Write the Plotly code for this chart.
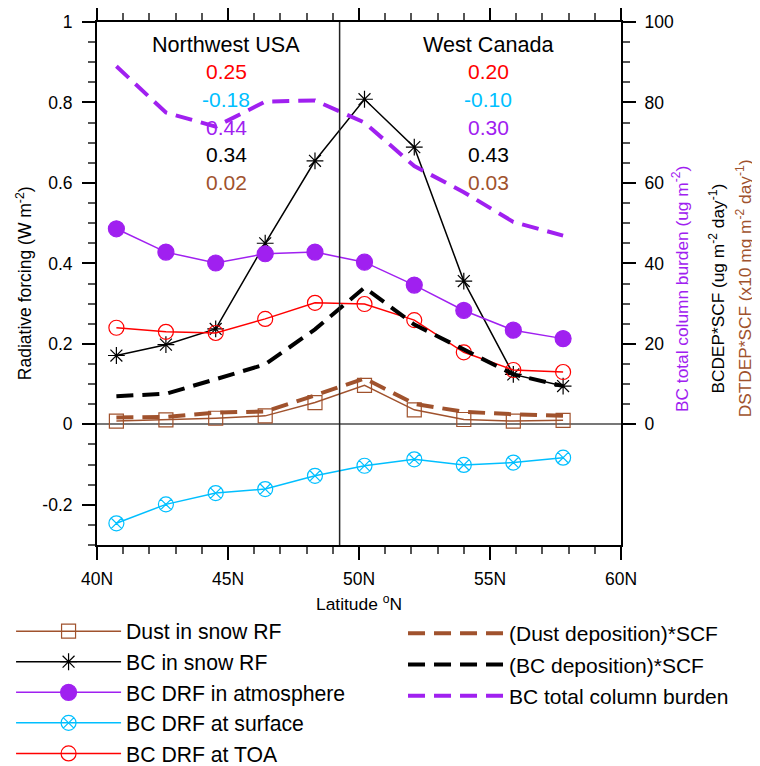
import plotly.graph_objects as go

# ---------------- data ----------------
lat = [40.74, 42.63, 44.53, 46.42, 48.32, 50.21, 52.11, 54.0, 55.89, 57.79]
divider_lat = 49.26

dust_snow_rf = [0.008, 0.011, 0.015, 0.021, 0.054, 0.097, 0.036, 0.012, 0.008, 0.010]
bc_snow_rf = [0.171, 0.198, 0.237, 0.450, 0.655, 0.808, 0.689, 0.356, 0.124, 0.095]
bc_drf_atm = [0.486, 0.428, 0.401, 0.424, 0.428, 0.403, 0.346, 0.283, 0.234, 0.213]
bc_drf_sfc = [-0.246, -0.199, -0.171, -0.161, -0.128, -0.103, -0.087, -0.101, -0.095, -0.083]
bc_drf_toa = [0.240, 0.230, 0.227, 0.262, 0.302, 0.299, 0.259, 0.179, 0.135, 0.130]

dust_dep_scf = [1.7, 1.8, 2.9, 3.2, 7.2, 11.4, 5.1, 3.1, 2.5, 2.1]
bc_dep_scf = [7.0, 7.6, 11.2, 14.9, 23.6, 34.0, 24.8, 18.6, 12.4, 9.5]
bc_burden = [89.0, 77.5, 74.0, 80.2, 80.5, 75.0, 64.2, 57.7, 50.3, 46.9]

region_names = ["Northwest USA", "West Canada"]
region_lat = [44.93, 54.93]
region_values = {
    "toa": ["0.25", "0.20"],
    "sfc": ["-0.18", "-0.10"],
    "atm": ["0.44", "0.30"],
    "bcsnow": ["0.34", "0.43"],
    "dustsnow": ["0.02", "0.03"],
}

x_tickvals = [40, 45, 50, 55, 60]
x_ticktext = ["40N", "45N", "50N", "55N", "60N"]
y_tickvals = [-0.2, 0, 0.2, 0.4, 0.6, 0.8, 1]
y_ticktext = ["-0.2", "0", "0.2", "0.4", "0.6", "0.8", "1"]
y2_tickvals = [0, 20, 40, 60, 80, 100]

# ---------------- colours ----------------
BROWN = "#A0522D"
PURPLE = "#A020F0"
CYAN = "#00BFFF"
RED = "#FF0000"
BLACK = "#000000"
FONT = "Liberation Sans, Arial, Helvetica, sans-serif"

fig = go.Figure()

def solid(name, y, color, symbol, size, group):
    fig.add_trace(go.Scatter(
        x=lat, y=y, name=name, mode="lines+markers",
        line=dict(color=color, width=1.5),
        marker=dict(symbol=symbol, size=size, color=color,
                    line=dict(color=color, width=1.2)),
        legend="legend", legendgroup=group, yaxis="y"))

def dashed(name, y, color, group):
    fig.add_trace(go.Scatter(
        x=lat, y=y, name=name, mode="lines",
        line=dict(color=color, width=4, dash="17px,9px"),
        legend="legend2", legendgroup=group, yaxis="y2"))

# dashed (right axis)
dashed("(Dust deposition)*SCF", dust_dep_scf, BROWN, "d1")
dashed("(BC deposition)*SCF", bc_dep_scf, BLACK, "d2")
dashed("BC total column burden", bc_burden, PURPLE, "d3")

# solid (left axis)
solid("Dust in snow RF", dust_snow_rf, BROWN, "square-open", 14, "s1")
solid("BC in snow RF", bc_snow_rf, BLACK, "asterisk-open", 14, "s2")
solid("BC DRF in atmosphere", bc_drf_atm, PURPLE, "circle", 16, "s3")
solid("BC DRF at surface", bc_drf_sfc, CYAN, "circle-x-open", 15, "s4")
solid("BC DRF at TOA", bc_drf_toa, RED, "circle-open", 15, "s5")

# divider
fig.add_vline(x=divider_lat, line=dict(color="#222222", width=1.5))

# region annotations
row_colors = [("toa", RED), ("sfc", CYAN), ("atm", PURPLE), ("bcsnow", BLACK), ("dustsnow", BROWN)]
for i, (nm, xl) in enumerate(zip(region_names, region_lat)):
    fig.add_annotation(x=xl, y=0.945, xref="x", yref="y", text=nm, showarrow=False,
                       xanchor="center", yanchor="middle",
                       font=dict(size=21.6, color=BLACK, family=FONT))
    for j, (key, col) in enumerate(row_colors):
        fig.add_annotation(x=xl, y=0.878 - 0.0695 * j, xref="x", yref="y",
                           text=region_values[key][i], showarrow=False,
                           xanchor="center", yanchor="middle",
                           font=dict(size=21, color=col, family=FONT))

# axis titles (left & right)
side_titles = [
    (-0.140, 0.50, "Radiative forcing (W m<sup>-2</sup>)", BLACK, 17.5),
    (1.113, 0.49, "BC total column burden (ug m<sup>-2</sup>)", PURPLE, 17.3),
    (1.183, 0.49, "BCDEP*SCF (ug m<sup>-2</sup> day<sup>-1</sup>)", BLACK, 17.3),
    (1.234, 0.49, "DSTDEP*SCF (x10 mg m<sup>-2</sup> day<sup>-1</sup>)", BROWN, 17.3),
]
for xp, yp, txt, col, fs in side_titles:
    fig.add_annotation(x=xp, y=yp, xref="paper", yref="paper", text=txt, textangle=-90,
                       xanchor="center", yanchor="middle", showarrow=False,
                       font=dict(size=fs, color=col, family=FONT))

# page body adds an 8px offset, so the figure is 8px smaller on each side
fig.update_layout(
    width=752, height=758,
    margin=dict(l=89, r=139, t=14, b=221, autoexpand=False),
    paper_bgcolor="white", plot_bgcolor="white",
    font=dict(family=FONT, color=BLACK, size=17),
    xaxis=dict(
        range=[40, 60], tickvals=x_tickvals, ticktext=x_ticktext,
        ticks="outside", ticklen=13, tickwidth=1.5, tickcolor=BLACK,
        ticklabelstandoff=4,
        minor=dict(dtick=1, tick0=40, ticks="outside", ticklen=7, tickwidth=1.5, tickcolor="#555555"),
        showline=True, linecolor=BLACK, linewidth=2, mirror="ticks",
        showgrid=False, zeroline=False,
        tickfont=dict(size=17.5),
        title=dict(text="Latitude <sup>o</sup>N", font=dict(size=17.4), standoff=10),
    ),
    yaxis=dict(
        range=[-0.3, 1], tickvals=y_tickvals, ticktext=y_ticktext,
        ticks="outside", ticklen=13, tickwidth=1.5, tickcolor=BLACK,
        ticklabelstandoff=6,
        minor=dict(dtick=0.05, tick0=0, ticks="outside", ticklen=7, tickwidth=1.5, tickcolor="#555555"),
        showline=True, linecolor=BLACK, linewidth=2,
        showgrid=False, zeroline=True, zerolinecolor="#777777", zerolinewidth=1.5,
        tickfont=dict(size=17.5),
    ),
    yaxis2=dict(
        overlaying="y", side="right", range=[-30, 100],
        tickvals=y2_tickvals, ticks="outside", ticklen=13, tickwidth=1.5, tickcolor=BLACK,
        ticklabelstandoff=5,
        minor=dict(tickmode="array", tickvals=[v for v in range(5, 100, 5) if v % 20],
                   ticks="outside", ticklen=7, tickwidth=1.5, tickcolor="#555555"),
        showline=True, linecolor=BLACK, linewidth=2,
        showgrid=False, zeroline=False, tickfont=dict(size=17.5),
    ),
    legend=dict(
        x=-0.164, y=-0.126, xanchor="left", yanchor="top",
        font=dict(size=21.2, color=BLACK), tracegroupgap=0, itemwidth=105,
        bgcolor="rgba(0,0,0,0)", traceorder="grouped",
    ),
    legend2=dict(
        x=0.584, y=-0.130, xanchor="left", yanchor="top",
        font=dict(size=21, color=BLACK), tracegroupgap=1, itemwidth=96,
        bgcolor="rgba(0,0,0,0)", traceorder="grouped",
    ),
    showlegend=True,
)

fig.write_html("out.html")
